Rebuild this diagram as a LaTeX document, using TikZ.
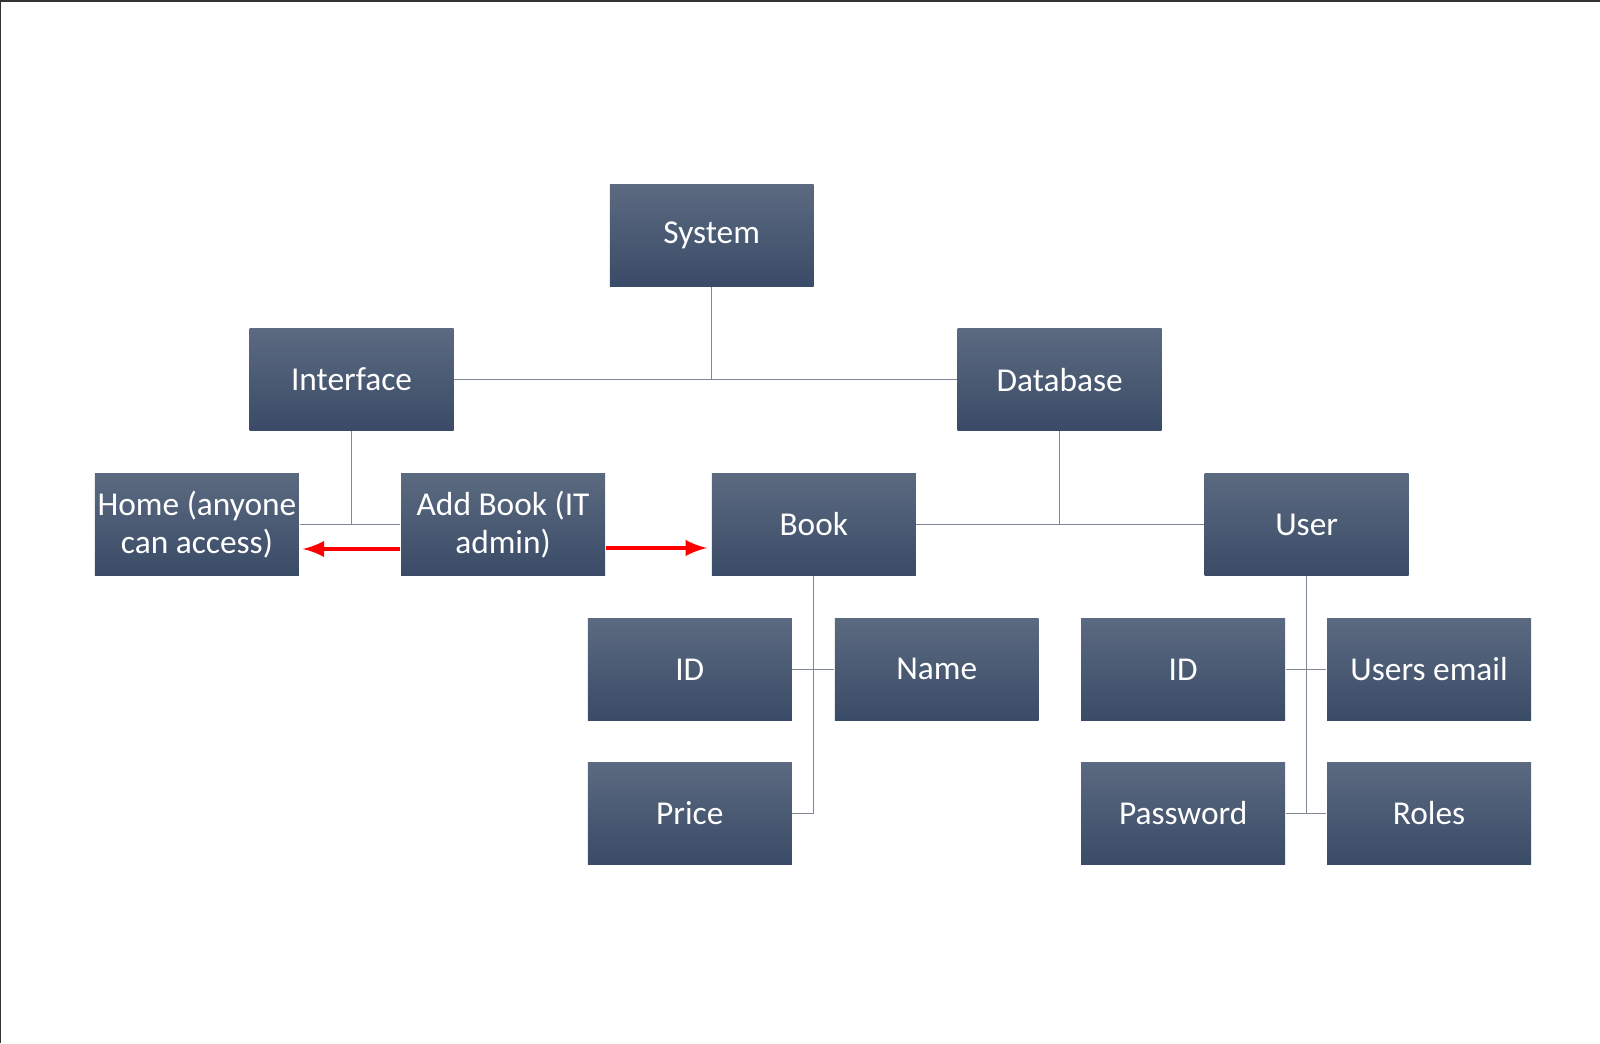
\documentclass[tikz,border=0pt]{standalone}
\usepackage{fontspec}
\setmainfont{Carlito}
\usetikzlibrary{arrows}

\definecolor{boxtop}{HTML}{5B6A80}
\definecolor{boxbot}{HTML}{3A4B67}
\definecolor{linkgray}{HTML}{7F8896}

\begin{document}
\begin{tikzpicture}[x=0.0102041cm,y=-0.0102041cm,
        unit/.style={rectangle,top color=boxtop,bottom color=boxbot,minimum width=2.04cm,minimum height=1.02cm,inner sep=0pt,text=white,font=\fontsize{9.5}{11}\selectfont,align=center},
        link/.style={draw=linkgray,line width=0.4pt},
        jump/.style={draw=red,line width=1.1pt,-latex}]
    \useasboundingbox (0,0) rectangle (1568,1022.2);
    \draw [line width=0.6pt,color=black!80] (0,1022.2) -- (0,1) -- (1568,1);

    % levels
    \node [unit] (system)   at (697.5,231)  {System};
    \node [unit] (iface)    at (344.5,372)  {Interface};
    \node [unit] (dbase)    at (1038.5,372) {Database};
    \node [unit] (home)     at (193,514)    {Home (anyone\\can access)};
    \node [unit] (addbook)  at (493,514)    {Add Book (IT\\admin)};
    \node [unit] (book)     at (797.5,514)  {Book};
    \node [unit] (user)     at (1280.5,514) {User};
    \node [unit] (bookid)   at (676,656)    {ID};
    \node [unit] (bookname) at (918,656)    {Name};
    \node [unit] (price)    at (676,797)    {Price};
    \node [unit] (userid)   at (1159.5,656) {ID};
    \node [unit] (email)    at (1400.5,656) {Users email};
    \node [unit] (passwd)   at (1159.5,797) {Password};
    \node [unit] (roles)    at (1400.5,797) {Roles};

    % tree links
    \begin{scope}[link]
        \draw (system.south) -- (system.south |- iface.east);
        \draw (iface.east) -- (dbase.west);
        \draw (iface.south) -- (iface.south |- home.east);
        \draw (home.east) -- (addbook.west);
        \draw (dbase.south) -- (dbase.south |- book.east);
        \draw (book.east) -- (user.west);
        \draw (book.south) -- (book.south |- price.east);
        \draw (bookid.east) -- (bookname.west);
        \draw (price.east) -- (book.south |- price.east);
        \draw (user.south) -- (user.south |- passwd.east);
        \draw (userid.east) -- (email.west);
        \draw (passwd.east) -- (roles.west);
    \end{scope}

    % red arrows
    \draw [jump] ([yshift=-0.245cm]addbook.west) -- ([yshift=-0.245cm,xshift=0.03cm]home.east);
    \draw [jump] ([yshift=-0.235cm]addbook.east) -- ([yshift=-0.235cm,xshift=-0.04cm]book.west);
\end{tikzpicture}
\end{document}
